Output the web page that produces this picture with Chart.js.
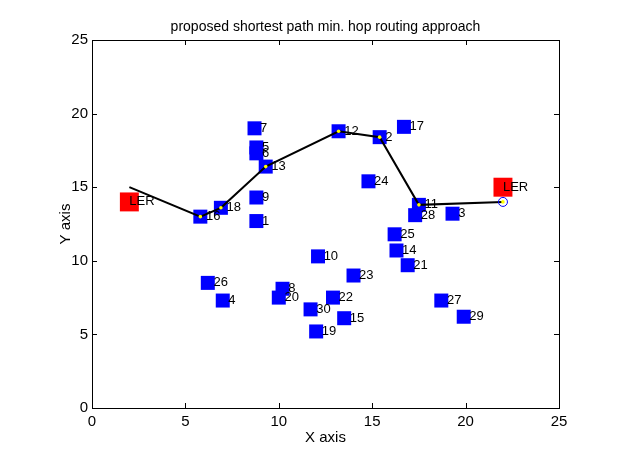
<!DOCTYPE html>
<html>
<head>
<meta charset="utf-8">
<script src="https://cdn.jsdelivr.net/npm/chart.js@4.4.1/dist/chart.umd.min.js"></script>
<style>
  body { margin: 0; background: #fff; }
  canvas { display: block; }
</style>
</head>
<body>
<canvas id="myChart" width="617" height="457"></canvas>
<script>
// node numbers and positions
const nodeIds = [1,2,3,4,5,6,7,8,9,10,11,12,13,14,15,16,17,18,19,20,21,22,23,24,25,26,27,28,29,30];
const nodeX = [8.8,15.4,19.3,7.0,8.8,8.8,8.7,10.2,8.8,12.1,17.5,13.2,9.3,16.3,13.5,5.8,16.7,6.9,12.0,10.0,16.9,12.9,14.0,14.8,16.2,6.2,18.7,17.3,19.9,11.7];
const nodeY = [12.7,18.4,13.2,7.3,17.7,17.3,19.0,8.1,14.3,10.3,13.8,18.8,16.4,10.7,6.1,13.0,19.1,13.6,5.2,7.5,9.7,7.5,9.0,15.4,11.8,8.5,7.3,13.1,6.2,6.7];

// edge routers
const lerX = [2, 22];
const lerY = [14, 15];

// shortest path (start, 16, 18, 13, 12, 2, 11, end)
const pathX = [2, 5.8, 6.9, 9.3, 13.2, 15.4, 17.5, 22];
const pathY = [15, 13.0, 13.6, 16.4, 18.8, 18.4, 13.8, 14];
const destX = [22];
const destY = [14];

const xTicks = [0,5,10,15,20,25];
const yTicks = [0,5,10,15,20,25];

const fuente = "Arial, 'Liberation Sans', sans-serif";

function pts(xs, ys){
  return xs.map((x,i) => ({x: x, y: ys[i]}));
}

const marco = {
  id: 'marco',
  afterDatasetsDraw(chart){
    const ctx = chart.ctx;
    const sx = chart.scales.x, sy = chart.scales.y;
    ctx.save();
    // node labels
    ctx.fillStyle = '#000';
    ctx.font = '13px ' + fuente;
    ctx.textBaseline = 'middle';
    ctx.textAlign = 'left';
    nodeIds.forEach((n,i) => {
      ctx.fillText(String(n), sx.getPixelForValue(nodeX[i] + 0.3), sy.getPixelForValue(nodeY[i]));
    });
    lerX.forEach((x,i) => {
      ctx.fillText('LER', sx.getPixelForValue(x), sy.getPixelForValue(lerY[i]));
    });
    ctx.restore();
  },
  afterDraw(chart){
    const ctx = chart.ctx;
    const a = chart.chartArea;
    const sx = chart.scales.x, sy = chart.scales.y;
    ctx.save();
    ctx.strokeStyle = '#000';
    ctx.lineWidth = 1;
    ctx.strokeRect(a.left + 0.5, a.top + 0.5, a.right - a.left, a.bottom - a.top);
    ctx.beginPath();
    xTicks.forEach(t => {
      const px = Math.round(sx.getPixelForValue(t)) + 0.5;
      ctx.moveTo(px, a.bottom); ctx.lineTo(px, a.bottom - 5);
      ctx.moveTo(px, a.top); ctx.lineTo(px, a.top + 5);
    });
    yTicks.forEach(t => {
      const py = Math.round(sy.getPixelForValue(t)) + 0.5;
      ctx.moveTo(a.left, py); ctx.lineTo(a.left + 5, py);
      ctx.moveTo(a.right, py); ctx.lineTo(a.right - 5, py);
    });
    ctx.stroke();

    ctx.fillStyle = '#000';
    ctx.textAlign = 'center';
    ctx.textBaseline = 'middle';
    ctx.font = '14px ' + fuente;
    ctx.fillText('proposed shortest path min. hop routing approach', (a.left + a.right) / 2, 27);
    ctx.font = '15px ' + fuente;
    ctx.fillText('X axis', (a.left + a.right) / 2, 438);
    ctx.translate(66, (a.top + a.bottom) / 2);
    ctx.rotate(-Math.PI / 2);
    ctx.fillText('Y axis', 0, 0);
    ctx.restore();
  }
};

const ctx = document.getElementById('myChart');
new Chart(ctx, {
  type: 'scatter',
  data: {
    datasets: [
      {
        label: 'destino',
        data: pts(destX, destY),
        pointStyle: 'circle',
        pointRadius: 4.5,
        borderColor: '#0000ff',
        backgroundColor: 'rgba(0,0,0,0)',
        borderWidth: 1,
        order: 1
      },
      {
        label: 'saltos',
        data: pts(pathX.slice(1), pathY.slice(1)),
        pointStyle: 'circle',
        pointRadius: 1.8,
        borderWidth: 0,
        backgroundColor: '#ffff00',
        order: 2
      },
      {
        label: 'ruta',
        data: pts(pathX, pathY),
        showLine: true,
        borderColor: '#000',
        borderWidth: 2,
        pointRadius: 0,
        order: 3
      },
      {
        label: 'LER',
        data: pts(lerX, lerY),
        pointStyle: 'rect',
        pointRadius: 13.4,
        borderWidth: 0,
        backgroundColor: '#ff0000',
        order: 4
      },
      {
        label: 'nodos',
        data: pts(nodeX, nodeY),
        pointStyle: 'rect',
        pointRadius: 9.9,
        borderWidth: 0,
        backgroundColor: '#0000ff',
        order: 5
      }
    ]
  },
  options: {
    responsive: false,
    animation: false,
    layout: { padding: { top: 40, right: 58, left: 0, bottom: 0 } },
    plugins: {
      legend: { display: false },
      tooltip: { enabled: false }
    },
    scales: {
      x: {
        type: 'linear',
        min: 0, max: 25,
        afterFit: s => { s.height = 49; },
        grid: { display: false, drawTicks: false },
        border: { display: false },
        ticks: { stepSize: 5, color: '#000', padding: 5, maxRotation: 0, font: { size: 15, family: fuente } }
      },
      y: {
        type: 'linear',
        min: 0, max: 25,
        afterFit: s => { s.width = 92; },
        grid: { display: false, drawTicks: false },
        border: { display: false },
        ticks: { stepSize: 5, color: '#000', padding: 4, font: { size: 15, family: fuente } }
      }
    }
  },
  plugins: [marco]
});
</script>
</body>
</html>
